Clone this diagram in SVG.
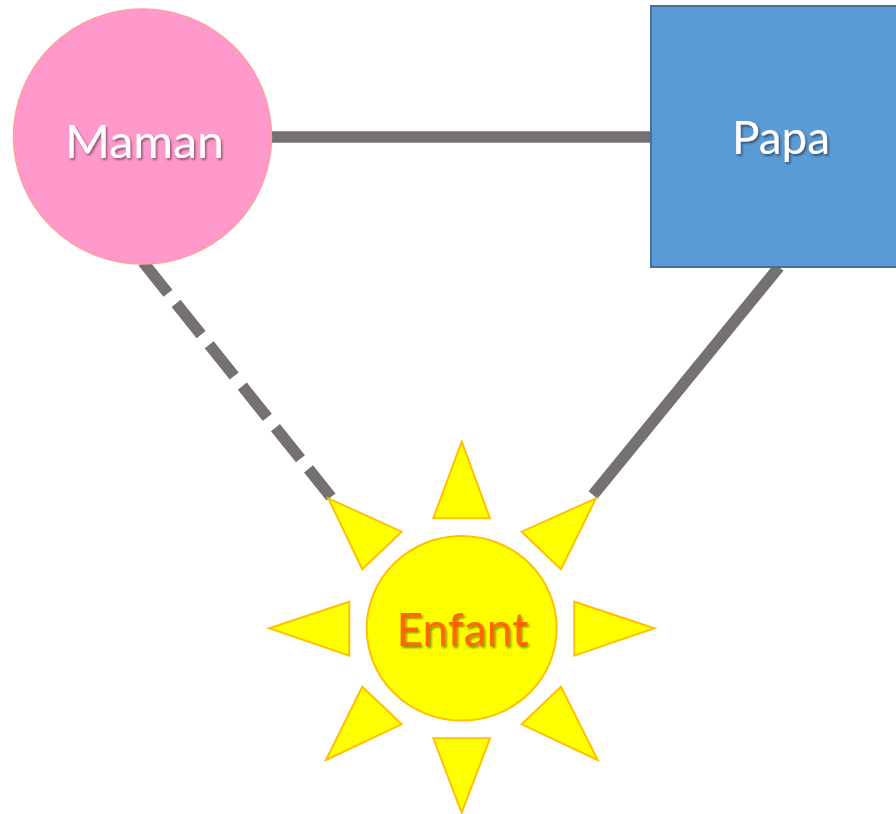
<svg xmlns="http://www.w3.org/2000/svg" width="896" height="814" viewBox="0 0 896 814">
<defs>
<filter id="sh" x="-20%" y="-20%" width="140%" height="140%">
<feDropShadow dx="1.5" dy="2" stdDeviation="1.2" flood-color="#000" flood-opacity="0.45"/>
</filter>
</defs>
<style>
.lbl{font-family:Lato,"Open Sans","Liberation Sans",sans-serif;font-size:47px;text-anchor:middle;filter:url(#sh)}
.conn{stroke:#767171;stroke-width:11.5;fill:none}
.ray{fill:#FFFF00;stroke:#FFC000;stroke-width:2;stroke-linejoin:miter}
</style>
<rect width="896" height="814" fill="#fff"/>
<g id="connectors">
<line class="conn" x1="270" y1="137" x2="652" y2="137"/>
<line class="conn" x1="143" y1="262" x2="331" y2="497" stroke-dasharray="40 13"/>
<line class="conn" x1="779" y1="267" x2="593" y2="495"/>
</g>
<g id="maman">
<ellipse cx="142.5" cy="136.5" rx="129" ry="127.5" fill="#FF99CC" stroke="#FF9F9F" stroke-width="1.5"/>
<text class="lbl" x="144.5" y="158" fill="#fff" textLength="159" lengthAdjust="spacingAndGlyphs">Maman</text>
</g>
<g id="papa">
<rect x="651" y="6" width="260" height="261" fill="#5B9BD5" stroke="#41719C" stroke-width="2"/>
<text class="lbl" x="781" y="154" fill="#fff" textLength="98" lengthAdjust="spacingAndGlyphs">Papa</text>
</g>
<g id="enfant">
<polygon class="ray" points="461.7,441.7 490,518.3 433.3,518.3"/>
<polygon class="ray" points="433.3,738.3 490,738.3 461.7,812.7"/>
<polygon class="ray" points="269.3,628.3 349.3,601.7 349.3,655.7"/>
<polygon class="ray" points="654.3,628.3 574.3,601.7 574.3,655.7"/>
<polygon class="ray" points="328.3,498.3 401.7,531.7 362.3,569.3"/>
<polygon class="ray" points="596,498.3 521.7,531.7 561,569.3"/>
<polygon class="ray" points="326,760 362.3,686.7 401.7,724.3"/>
<polygon class="ray" points="597.7,760 561,686.7 521.7,724.3"/>
<ellipse cx="461.7" cy="628.3" rx="95" ry="92.3" fill="#FFFF00" stroke="#FFC000" stroke-width="2"/>
<text class="lbl" x="462.5" y="646" fill="#FF6600" textLength="132" lengthAdjust="spacingAndGlyphs">Enfant</text>
</g>
</svg>
